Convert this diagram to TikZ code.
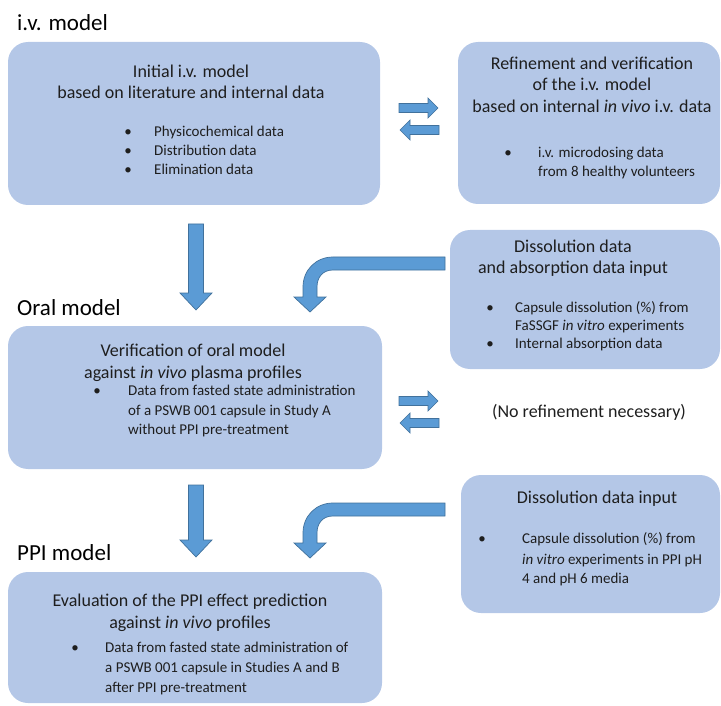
\documentclass[tikz,border=0pt]{standalone}
\usepackage{fontspec}
\setmainfont{Carlito}
\definecolor{boxblue}{HTML}{B4C7E7}
\definecolor{arrowblue}{HTML}{5B9BD5}
\definecolor{arrowedge}{HTML}{41719C}
\definecolor{txt}{HTML}{1E1E1E}
\begin{document}
\begin{tikzpicture}[x=1pt,y=-1pt,
  bx/.style={fill=boxblue, draw=none, rounded corners=20pt, inner sep=0pt},
  barrow/.style={fill=arrowblue, draw=arrowedge, line width=0.7pt, line join=miter},
  hdg/.style={anchor=base west, inner sep=0pt, font=\fontsize{23}{27}\selectfont, text=black},
  ttl/.style={anchor=base, inner sep=0pt, font=\fontsize{18}{22}\selectfont, text=txt},
  itm/.style={anchor=base west, inner sep=0pt, font=\fontsize{15}{18}\selectfont, text=txt},
  bul/.style={anchor=base, inner sep=0pt, font=\fontsize{15}{18}\selectfont, text=txt},
]
\useasboundingbox (0,0) rectangle (721,706);

% boxes
\node[bx, minimum width=372pt, minimum height=163pt] (b1) at (194,123.5) {};
\node[bx, minimum width=262pt, minimum height=162pt] (b2) at (589,123) {};
\node[bx, minimum width=270pt, minimum height=139pt] (b3) at (585,299.5) {};
\node[bx, minimum width=374pt, minimum height=143pt] (b4) at (195,397.5) {};
\node[bx, minimum width=259pt, minimum height=138pt] (b5) at (590.5,544) {};
\node[bx, minimum width=374pt, minimum height=131pt] (b6) at (195,637.5) {};

% headings
\node[hdg] (h1) at (17,31) {i.v. model};
\node[hdg] (h2) at (17,315) {Oral model};
\node[hdg] (h3) at (17,560) {PPI model};

% box 1
\node[ttl] (t1a) at (191,78) {Initial i.v. model};
\node[ttl] (t1b) at (191,99) {based on literature and internal data};
\node[bul] (d1a) at (128,137) {•};
\node[bul] (d1b) at (128,156) {•};
\node[bul] (d1c) at (128,175) {•};
\node[itm] (i1a) at (154,137) {Physicochemical data};
\node[itm] (i1b) at (154,156) {Distribution data};
\node[itm] (i1c) at (154,175) {Elimination data};

% box 2
\node[ttl] (t2a) at (592,70) {Refinement and verification};
\node[ttl] (t2b) at (592,91) {of the i.v. model};
\node[ttl] (t2c) at (592,113) {based on internal \textit{in vivo} i.v. data};
\node[bul] (d2a) at (508,158) {•};
\node[itm] (i2a) at (538,158) {i.v. microdosing data};
\node[itm] (i2b) at (538,177) {from 8 healthy volunteers};

% box 3
\node[ttl] (t3a) at (573,252) {Dissolution data};
\node[ttl] (t3b) at (573,273) {and absorption data input};
\node[bul] (d3a) at (490,312) {•};
\node[bul] (d3c) at (490,348) {•};
\node[itm] (i3a) at (515,312) {Capsule dissolution (\%) from};
\node[itm] (i3b) at (515,330) {FaSSGF \textit{in vitro} experiments};
\node[itm] (i3c) at (515,348) {Internal absorption data};

% box 4
\node[ttl] (t4a) at (193,356) {Verification of oral model};
\node[ttl] (t4b) at (193,378) {against \textit{in vivo} plasma profiles};
\node[bul] (d4a) at (97,395) {•};
\node[itm] (i4a) at (128,395) {Data from fasted state administration};
\node[itm] (i4b) at (128,415) {of a PSWB 001 capsule in Study A};
\node[itm] (i4c) at (128,434) {without PPI pre-treatment};

% no refinement
\node[ttl] (nr) at (589,417) {(No refinement necessary)};

% box 5
\node[ttl] (t5a) at (597,503) {Dissolution data input};
\node[bul] (d5a) at (482,543) {•};
\node[itm] (i5a) at (522,543) {Capsule dissolution (\%) from};
\node[itm] (i5b) at (522,564) {\textit{in vitro} experiments in PPI pH};
\node[itm] (i5c) at (522,583) {4 and pH 6 media};

% box 6
\node[ttl] (t6a) at (190,606) {Evaluation of the PPI effect prediction};
\node[ttl] (t6b) at (190,628) {against \textit{in vivo} profiles};
\node[bul] (d6a) at (75,652) {•};
\node[itm] (i6a) at (105,652) {Data from fasted state administration of};
\node[itm] (i6b) at (105,672) {a PSWB 001 capsule in Studies A and B};
\node[itm] (i6c) at (105,692) {after PPI pre-treatment};

% double arrows
\draw[barrow] (399,103.5) -- (428,103.5) -- (428,98) -- (438,108) -- (428,118) -- (428,112.5) -- (399,112.5) -- cycle;
\draw[barrow] (439,125.5) -- (410,125.5) -- (410,120) -- (400,130) -- (410,140) -- (410,134.5) -- (439,134.5) -- cycle;
\begin{scope}[shift={(0,293)}]
\draw[barrow] (399,103.5) -- (428,103.5) -- (428,98) -- (438,108) -- (428,118) -- (428,112.5) -- (399,112.5) -- cycle;
\draw[barrow] (439,125.5) -- (410,125.5) -- (410,120) -- (400,130) -- (410,140) -- (410,134.5) -- (439,134.5) -- cycle;
\end{scope}

% down arrows
\draw[barrow] (188.5,224) -- (203.5,224) -- (203.5,293) -- (212,293) -- (196,310) -- (180,293) -- (188.5,293) -- cycle;
\draw[barrow] (188.5,485) -- (203.5,485) -- (203.5,540) -- (212,540) -- (196,557) -- (180,540) -- (188.5,540) -- cycle;

% curved arrows
\draw[barrow] (445,257) -- (333,257) .. controls (316,257) and (303,270) .. (303,287) -- (303,297) -- (294,297) -- (310,312) -- (326,297) -- (317,297) -- (317,287) .. controls (317,277) and (323,270) .. (333,270) -- (445,270) -- cycle;
\begin{scope}[shift={(0,246)}]
\draw[barrow] (445,257) -- (333,257) .. controls (316,257) and (303,270) .. (303,287) -- (303,297) -- (294,297) -- (310,312) -- (326,297) -- (317,297) -- (317,287) .. controls (317,277) and (323,270) .. (333,270) -- (445,270) -- cycle;
\end{scope}
\end{tikzpicture}
\end{document}
